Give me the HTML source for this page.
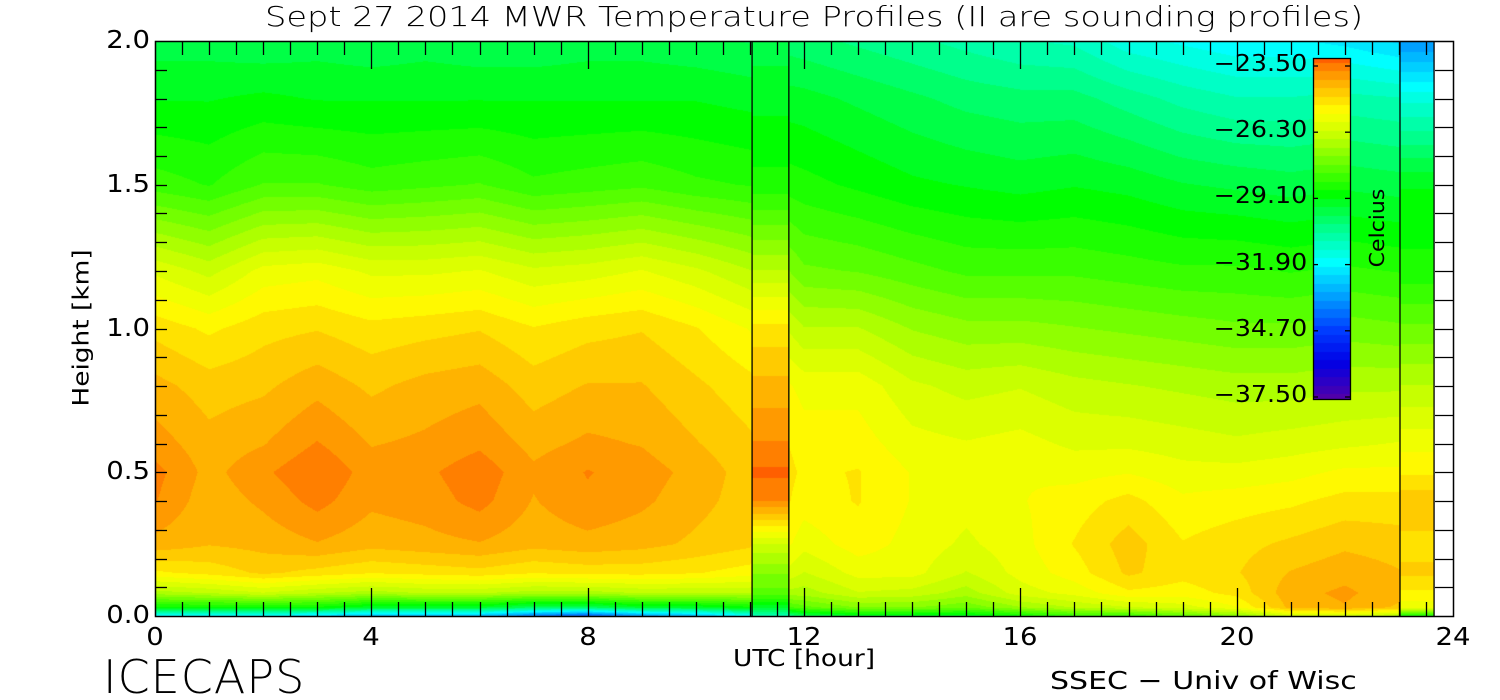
<!DOCTYPE html>
<html><head><meta charset="utf-8">
<style>
html,body{margin:0;padding:0;background:#fff;}
#wrap{position:relative;width:1500px;height:700px;overflow:hidden;font-family:"DejaVu Sans","Liberation Sans",sans-serif;color:#000;}
.t{position:absolute;white-space:nowrap;}
canvas{position:absolute;}
svg{position:absolute;left:0;top:0;}
</style></head>
<body>
<div id="wrap">
<canvas id="heat" width="1500" height="700" style="left:0;top:0"></canvas>
<canvas id="cbar" width="37" height="341" style="left:1313px;top:58px"></canvas>
<svg id="ov" width="1500" height="700"></svg>
<div class="t" style="left:265px;top:0px;font-size:28px;transform:scaleX(1.2);transform-origin:left top;font-weight:300">Sept 27 2014 MWR Temperature Profiles (II are sounding profiles)</div>
<div class="t" style="left:82px;top:328px;font-size:22px;transform:translate(-50%,-50%) rotate(-90deg) scaleX(1.2)">Height [km]</div>
<div class="t" style="left:733px;top:646px;font-size:23px;transform:scaleX(1.15);transform-origin:left top">UTC [hour]</div>
<div class="t" style="left:103px;top:650px;font-size:46px;font-weight:100;letter-spacing:1px">ICECAPS</div>
<div class="t" style="left:1050px;top:666px;font-size:25px;transform:scaleX(1.2);transform-origin:left top">SSEC − Univ of Wisc</div>
<div class="t" style="left:1377px;top:228px;font-size:20px;transform:translate(-50%,-50%) rotate(-90deg) scaleX(1.1)">Celcius</div>
<div id="labels"></div>
</div>
<script>
// ---- data ----
const heights = [0, 0.03, 0.08, 0.15, 0.25, 0.4, 0.5, 0.6, 0.8, 1.0, 1.2, 1.5, 1.8, 2.0];
const times = [0,1,2,3,4,5,6,7,8,9,10,11,12,13,14,15,16,17,18,19,20,21,22,23.02];
const profiles = [
[-32,-29,-27,-25.5,-24.5,-24.0,-23.9,-24.2,-24.6,-25.2,-26.2,-28.4,-29.3,-29.8],
[-32,-29,-26.8,-25.3,-24.7,-24.6,-24.5,-24.6,-24.9,-25.5,-26.6,-28.6,-29.3,-29.8],
[-32,-29,-26.5,-25,-24.6,-24.3,-24.1,-24.4,-24.8,-25.2,-26.0,-28.2,-29.2,-29.9],
[-32.5,-29,-26.8,-25.2,-24.4,-23.9,-23.7,-24.0,-24.5,-25.1,-25.9,-28.2,-29.3,-29.8],
[-33,-29.5,-27,-25.4,-24.6,-24.3,-24.2,-24.4,-24.8,-25.3,-26.2,-28.4,-29.3,-29.9],
[-33,-29.5,-26.8,-25.3,-24.5,-24.2,-24.1,-24.3,-24.6,-25.2,-26.2,-28.3,-29.3,-29.8],
[-33,-29.5,-26.8,-25.2,-24.4,-23.9,-23.8,-24.1,-24.5,-25.1,-26.1,-28.2,-29.3,-29.9],
[-34,-30,-27,-25.4,-24.6,-24.4,-24.3,-24.5,-24.9,-25.4,-26.4,-28.5,-29.3,-29.9],
[-34.5,-30,-27,-25.3,-24.5,-24.1,-24.0,-24.3,-24.7,-25.2,-26.3,-28.4,-29.3,-29.8],
[-33.5,-29.5,-26.8,-25.3,-24.6,-24.3,-24.2,-24.4,-24.7,-25.1,-26.1,-28.3,-29.3,-29.8],
[-33,-29.5,-26.8,-25.4,-24.8,-24.6,-24.5,-24.7,-25.0,-25.4,-26.4,-28.5,-29.3,-29.9],
[-32,-29,-26.8,-25.6,-25.0,-24.9,-24.9,-25.0,-25.3,-25.8,-26.8,-28.6,-29.4,-30.0],
[-30,-28,-27,-26.5,-26,-25.6,-25.5,-25.6,-25.9,-26.8,-27.8,-28.8,-29.5,-30.2],
[-29.5,-27.5,-26.5,-26.0,-25.6,-25.4,-25.4,-25.6,-25.9,-26.8,-27.9,-29.0,-29.7,-30.4],
[-29.5,-27.5,-26.6,-26.0,-25.9,-25.8,-25.8,-26.0,-26.4,-27.2,-28.1,-29.2,-29.9,-30.6],
[-29.5,-27.8,-27,-26.5,-26.2,-26.0,-26.0,-26.1,-26.6,-27.4,-28.3,-29.3,-30.1,-30.8],
[-29,-27.2,-26.3,-26.0,-25.9,-25.8,-25.8,-26.0,-26.5,-27.4,-28.3,-29.4,-30.2,-31.0],
[-28.5,-26.8,-26.0,-25.6,-25.4,-25.6,-25.9,-26.2,-26.7,-27.5,-28.3,-29.3,-30.2,-31.1],
[-28.5,-26.5,-25.5,-25.0,-24.9,-25.3,-25.8,-26.2,-26.8,-27.6,-28.4,-29.4,-30.5,-31.6],
[-28,-26.3,-25.6,-25.3,-25.4,-25.7,-26.0,-26.3,-26.9,-27.7,-28.5,-29.6,-30.8,-31.8],
[-27.5,-25.8,-25.3,-25.1,-25.2,-25.6,-26.0,-26.4,-27.0,-27.8,-28.5,-29.7,-31.0,-32.0],
[-26.5,-24.6,-24.5,-24.7,-25.0,-25.5,-25.9,-26.3,-27.0,-27.8,-28.6,-29.8,-31.0,-32.0],
[-26.5,-24.4,-24.3,-24.5,-24.8,-25.3,-25.7,-26.2,-26.9,-27.7,-28.5,-29.7,-30.9,-32.2],
[-27,-24.8,-24.6,-24.7,-24.9,-25.3,-25.7,-26.1,-26.9,-27.8,-28.6,-29.8,-31.0,-32.5]
];
const soundingStarts = [11.04, 23.02];
const soundingEnds = [11.72, 23.65];
const sounding1 = [-31,-29.5,-28,-27.5,-26.5,-24.0,-23.6,-24.0,-24.6,-25.3,-26.8,-28.8,-29.4,-29.8];
const sounding2 = [-29,-26,-25.5,-25,-25.2,-24.8,-25.5,-25.9,-26.8,-27.8,-28.8,-29.3,-31.5,-33.5];
const xTicks = [0,4,8,12,16,20,24];
const yTicks = [0.0,0.5,1.0,1.5,2.0];
const cbarTicks = [-23.5,-26.3,-29.1,-31.9,-34.7,-37.5];

// ---- scales ----
const X0=155, X1=1453, Y0=616, Y1=41;
const xs = t => X0 + (t/24)*(X1-X0);
const ys = h => Y0 - (h/2)*(Y0-Y1);
const stops = [[-37.5,[80,0,170]],[-36,[0,0,230]],[-34.7,[0,60,255]],[-33.3,[0,160,255]],[-31.9,[0,255,255]],[-30.5,[0,255,140]],[-29.1,[0,255,0]],[-28,[90,255,0]],[-26.8,[190,255,0]],[-25.7,[255,255,0]],[-24.7,[255,190,0]],[-24.0,[255,140,0]],[-23.5,[255,95,0]]];
function cmap(v){
  v=Math.round((v+37.5)/0.35)*0.35-37.5;
  if(v<=stops[0][0])return stops[0][1];
  for(let i=1;i<stops.length;i++){if(v<=stops[i][0]){const a=stops[i-1],b=stops[i];const f=(v-a[0])/(b[0]-a[0]);return a[1].map((c,k)=>Math.round(c+(b[1][k]-c)*f));}}
  return stops[stops.length-1][1];
}
function interpProfile(p,h){
  for(let i=1;i<heights.length;i++){if(h<=heights[i]){const f=(h-heights[i-1])/(heights[i]-heights[i-1]);return p[i-1]+(p[i]-p[i-1])*f;}}
  return p[p.length-1];
}
// ---- heatmap ----
const cv=document.getElementById('heat'),ctx=cv.getContext('2d');
const img=ctx.createImageData(1500,700),d=img.data;
function paint(px0,px1,fn){
  for(let y=Y1;y<Y0;y++){const h=(Y0-y-0.5)/(Y0-Y1)*2;
    for(let x=px0;x<px1;x++){const v=fn((x+0.5-X0)/(X1-X0)*24,h);const c=cmap(v);const o=(y*1500+x)*4;d[o]=c[0];d[o+1]=c[1];d[o+2]=c[2];d[o+3]=255;}}
}
paint(Math.round(xs(0)),Math.round(xs(times[times.length-1])),(t,h)=>{
  let i=0;while(i<times.length-2&&t>times[i+1])i++;
  const f=Math.max(0,Math.min(1,(t-times[i])/(times[i+1]-times[i])));
  return interpProfile(profiles[i],h)*(1-f)+interpProfile(profiles[i+1],h)*f;
});
paint(Math.round(xs(soundingStarts[0])),Math.round(xs(soundingEnds[0])),(t,h)=>interpProfile(sounding1,h));
paint(Math.round(xs(soundingStarts[1])),Math.round(xs(soundingEnds[1])),(t,h)=>interpProfile(sounding2,h));
ctx.putImageData(img,0,0);
// colorbar
const cb=document.getElementById('cbar').getContext('2d');
for(let y=0;y<341;y++){const v=-23.5-(y/340)*14;const c=cmap(v);cb.fillStyle=`rgb(${c})`;cb.fillRect(0,y,37,1);}
// ---- overlay ----
const NS='http://www.w3.org/2000/svg',ov=document.getElementById('ov');
function ln(x1,y1,x2,y2,name){const l=document.createElementNS(NS,'line');l.setAttribute('x1',x1);l.setAttribute('y1',y1);l.setAttribute('x2',x2);l.setAttribute('y2',y2);l.setAttribute('stroke','#000');l.setAttribute('stroke-width','1.3');


ov.appendChild(l);}
const fr=document.createElementNS(NS,'rect');fr.setAttribute('x',X0+0.5);fr.setAttribute('y',Y1+0.5);fr.setAttribute('width',X1-X0);fr.setAttribute('height',Y0-Y1);fr.setAttribute('fill','none');fr.setAttribute('stroke','#000');fr.setAttribute('stroke-width','1.5');


ov.appendChild(fr);
for(let k=0;k<2;k++){ln(xs(soundingStarts[k]),Y1,xs(soundingStarts[k]),Y0,'sounding-border');ln(xs(soundingEnds[k]),Y1,xs(soundingEnds[k]),Y0,'sounding-border');}
for(let t=0.5;t<24;t+=0.5){const major=xTicks.includes(t);const L=major?28:14;const x=Math.round(xs(t))+0.5;ln(x,Y0,x,Y0-L,'x-tick');ln(x,Y1,x,Y1+L,'x-tick');}
for(let i=1;i<20;i++){const y=Math.round(ys(i*0.1))+0.5;ln(X0,y,X0+12,y,'y-tick');ln(X1,y,X1-18,y,'y-tick');}
const cbf=document.createElementNS(NS,'rect');cbf.setAttribute('x',1313.5);cbf.setAttribute('y',58.5);cbf.setAttribute('width',37);cbf.setAttribute('height',341);cbf.setAttribute('fill','none');cbf.setAttribute('stroke','#000');cbf.setAttribute('stroke-width','1.3');


ov.appendChild(cbf);
const lab=document.getElementById('labels');
function txt(s,x,y,size,name,anchor){const e=document.createElement('div');e.className='t';e.textContent=s;e.style.fontSize=size+'px';e.style.top=y+'px';e.style.left=x+'px';if(anchor)e.style.transform=anchor;


lab.appendChild(e);}
xTicks.forEach(t=>txt(String(t),xs(t),622,25,'x-tick-label','translateX(-50%) scaleX(1.1)'));
yTicks.forEach(h=>txt(h.toFixed(1),148,ys(h)-16,25,'y-tick-label','translateX(-100%) scaleX(1.1)'));
cbarTicks.forEach((v,i)=>{const y=58+(( -23.5-v)/14)*331+8;txt('−'+Math.abs(v).toFixed(2),1303,y-15,23,'colorbar-tick-label','translateX(-100%) scaleX(1.1)');ln(1313,y,1318,y,'colorbar-tick');ln(1350,y,1345,y,'colorbar-tick');});
</script>
</body></html>
